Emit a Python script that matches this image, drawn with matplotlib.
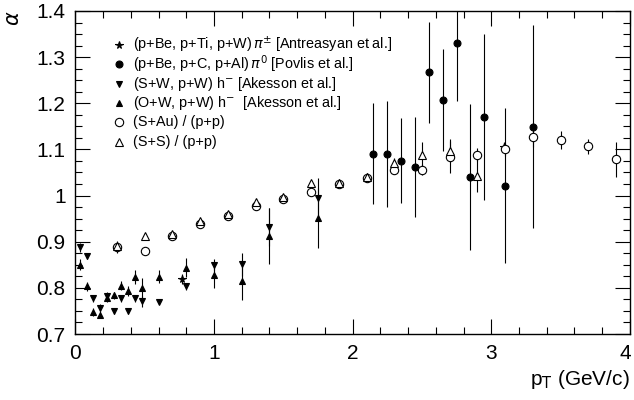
import numpy as np
import matplotlib
matplotlib.use("Agg")
import matplotlib.pyplot as plt
from matplotlib.ticker import MultipleLocator
from matplotlib.transforms import ScaledTranslation

plt.rcParams["font.family"] = ["Liberation Sans", "DejaVu Sans"]
plt.rcParams["mathtext.fontset"] = "dejavusans"

# pi+- (Antreasyan)
star_x = [0.77, 3.09]
star_y = [0.819, 1.105]
star_e = [0.010, 0.012]

# pi0 (Povlis)
fill_x = [2.15, 2.25, 2.35, 2.45, 2.55, 2.65, 2.75, 2.85, 2.95, 3.10, 3.30]
fill_y = [1.091, 1.091, 1.076, 1.062, 1.267, 1.207, 1.331, 1.040, 1.171, 1.021, 1.149]
fill_e = [0.110, 0.115, 0.093, 0.108, 0.110, 0.110, 0.125, 0.158, 0.180, 0.168, 0.220]

# h- (S+W, p+W)
down_x = [0.03, 0.08, 0.13, 0.18, 0.23, 0.28, 0.33, 0.38, 0.43, 0.48, 0.60, 0.80, 1.00, 1.20, 1.40, 1.75]
down_y = [0.888, 0.868, 0.777, 0.757, 0.783, 0.750, 0.777, 0.750, 0.777, 0.771, 0.770, 0.803, 0.849, 0.851, 0.932, 0.994]
down_e = [0.010, 0.006, 0.008, 0.008, 0.008, 0.006, 0.008, 0.006, 0.008, 0.012, 0.006, 0.008, 0.013, 0.025, 0.041, 0.043]

# h- (O+W, p+W)
up_x = [0.03, 0.08, 0.13, 0.18, 0.23, 0.28, 0.33, 0.38, 0.43, 0.48, 0.60, 0.80, 1.00, 1.20, 1.40, 1.75]
up_y = [0.850, 0.803, 0.748, 0.742, 0.779, 0.784, 0.805, 0.793, 0.824, 0.799, 0.824, 0.844, 0.828, 0.814, 0.912, 0.951]
up_e = [0.012, 0.010, 0.008, 0.008, 0.010, 0.008, 0.010, 0.010, 0.015, 0.022, 0.014, 0.020, 0.028, 0.041, 0.061, 0.065]

# (S+Au)/(p+p)
ocirc_x = [0.30, 0.50, 0.70, 0.90, 1.10, 1.30, 1.50, 1.70, 1.90, 2.10, 2.30, 2.50, 2.70, 2.90, 3.10, 3.30, 3.50, 3.70, 3.90]
ocirc_y = [0.888, 0.879, 0.912, 0.938, 0.956, 0.978, 0.992, 1.008, 1.025, 1.038, 1.056, 1.056, 1.083, 1.089, 1.100, 1.126, 1.121, 1.107, 1.079]
ocirc_e = [0.012, 0.004, 0.004, 0.005, 0.005, 0.006, 0.006, 0.006, 0.007, 0.008, 0.010, 0.012, 0.035, 0.015, 0.015, 0.020, 0.020, 0.016, 0.038]

# (S+S)/(p+p)
otri_x = [0.30, 0.50, 0.70, 0.90, 1.10, 1.30, 1.50, 1.70, 1.90, 2.10, 2.30, 2.50, 2.70, 2.90]
otri_y = [0.890, 0.912, 0.917, 0.945, 0.961, 0.985, 0.997, 1.027, 1.028, 1.040, 1.070, 1.089, 1.097, 1.043]
otri_e = [0.012, 0.004, 0.004, 0.005, 0.005, 0.006, 0.006, 0.006, 0.007, 0.008, 0.012, 0.027, 0.025, 0.035]

labels = [
    r"(p+Be, p+Ti, p+W)$\,\pi^{\pm}$ [Antreasyan et al.]",
    r"(p+Be, p+C, p+Al)$\,\pi^{0}$ [Povlis et al.]",
    r"(S+W, p+W) h$^{-}$ [Akesson et al.]",
    r"(O+W, p+W) h$^{-}$  [Akesson et al.]",
    "(S+Au) / (p+p)",
    "(S+S) / (p+p)",
]
xtick_labels = ["0", "1", "2", "3", "4"]
ytick_labels = ["0.7", "0.8", "0.9", "1", "1.1", "1.2", "1.3", "1.4"]

fig = plt.figure(figsize=(6.34, 4.0), dpi=100)
ax = fig.add_axes([0.119, 0.165, 0.8745, 0.8075])

series = [
    (star_x, star_y, star_e, dict(marker="*", ms=5.5, mfc="black")),
    (fill_x, fill_y, fill_e, dict(marker="o", ms=5, mfc="black")),
    (down_x, down_y, down_e, dict(marker="v", ms=5, mfc="black")),
    (up_x, up_y, up_e, dict(marker="^", ms=5, mfc="black")),
    (ocirc_x, ocirc_y, ocirc_e, dict(marker="o", ms=6, mfc="white")),
    (otri_x, otri_y, otri_e, dict(marker="^", ms=6, mfc="white")),
]

for x, y, e, st in series:
    ax.errorbar(x, y, yerr=e, fmt="none", ecolor="black", elinewidth=0.8, capsize=0, zorder=2)
    ax.plot(x, y, ls="none", color="black", mec="black", mew=0.8, zorder=3, **st)

# legend drawn by hand, ROOT style
for i, ((_, _, _, st), lab) in enumerate(zip(series, labels)):
    yy = 0.895 - i * 0.06
    ax.plot([0.078], [yy], ls="none", color="black", mec="black", mew=0.8,
            transform=ax.transAxes, clip_on=False, **st)
    ax.text(0.104, yy, lab, transform=ax.transAxes, fontsize=10.4, va="center", ha="left")

ax.set_xlim(0, 4)
ax.set_ylim(0.7, 1.4)
ax.set_xticks(np.arange(0, 4.01, 1), xtick_labels)
ax.set_yticks(np.arange(0.7, 1.41, 0.1), ytick_labels)
ax.xaxis.set_minor_locator(MultipleLocator(0.2))
ax.yaxis.set_minor_locator(MultipleLocator(0.025))
ax.tick_params(which="both", direction="in", top=True, right=True, labelsize=15, width=0.8)
ax.tick_params(which="major", length=11, pad=7)
ax.tick_params(which="minor", length=5)
for s in ax.spines.values():
    s.set_linewidth(1.0)

# nudge the last x label inside the canvas
last = ax.get_xticklabels()[-1]
last.set_transform(last.get_transform() + ScaledTranslation(-5 / 100, 0, fig.dpi_scale_trans))

ax.set_xlabel(r"p$_{\rm T}$ (GeV/c)", loc="right", fontsize=15, labelpad=4)
ax.set_ylabel(r"$\alpha$", loc="top", fontsize=15, labelpad=10)

fig.savefig("out.png", dpi=100)
